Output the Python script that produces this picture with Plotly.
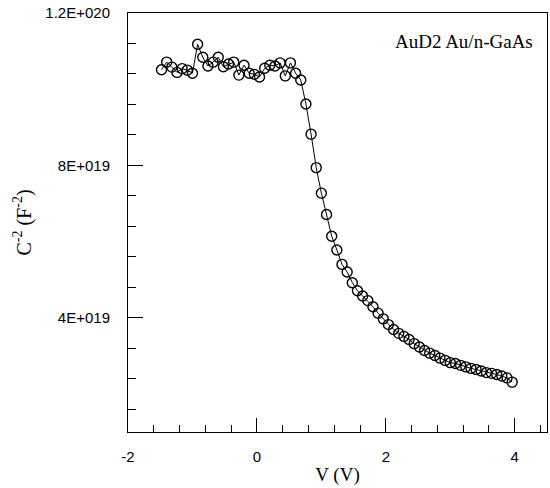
import plotly.graph_objects as go

# Bias voltage (V)
voltage = [-1.48, -1.40, -1.32, -1.24, -1.16, -1.08, -1.00, -0.92, -0.84, -0.76,
           -0.68, -0.60, -0.52, -0.44, -0.36, -0.28, -0.20, -0.12, -0.04, 0.04,
           0.12, 0.20, 0.28, 0.36, 0.44, 0.52, 0.60, 0.68,
           0.76, 0.84, 0.92, 1.00, 1.08, 1.16, 1.24, 1.32, 1.40, 1.48, 1.56, 1.64,
           1.72, 1.80, 1.88, 1.96, 2.04, 2.12, 2.20, 2.28, 2.36, 2.44, 2.52, 2.60,
           2.68, 2.76, 2.84, 2.92, 3.00, 3.08, 3.16, 3.24, 3.32, 3.40, 3.48, 3.56,
           3.64, 3.72, 3.80, 3.88, 3.96]

# C^-2 (F^-2)
inv_c2 = [10.51e19, 10.71e19, 10.58e19, 10.44e19, 10.54e19, 10.50e19, 10.42e19, 11.18e19,
          10.84e19, 10.61e19, 10.71e19, 10.84e19, 10.59e19, 10.66e19, 10.71e19, 10.37e19,
          10.63e19, 10.42e19, 10.39e19, 10.32e19, 10.55e19, 10.63e19, 10.61e19, 10.69e19,
          10.35e19, 10.69e19, 10.42e19, 10.24e19,
          9.61e19, 8.82e19, 7.94e19, 7.27e19, 6.71e19, 6.14e19, 5.78e19, 5.40e19,
          5.20e19, 4.92e19, 4.71e19, 4.57e19,
          4.45e19, 4.29e19, 4.12e19, 3.97e19, 3.82e19, 3.69e19, 3.59e19, 3.51e19,
          3.43e19, 3.32e19, 3.23e19, 3.14e19, 3.07e19, 3.01e19, 2.94e19, 2.88e19,
          2.82e19, 2.80e19, 2.75e19, 2.71e19, 2.67e19, 2.64e19, 2.60e19, 2.56e19,
          2.54e19, 2.51e19, 2.47e19, 2.42e19, 2.31e19]

x_tickvals = [-2, 0, 2, 4]
x_ticktext = ["-2", "0", "2", "4"]
y_tickvals = [4e19, 8e19, 1.2e20]
y_ticktext = ["4E+019", "8E+019", "1.2E+020"]

sans = "Liberation Sans, Arial, sans-serif"
serif = "Liberation Serif, Times New Roman, serif"

fig = go.Figure()
fig.add_trace(go.Scatter(
    x=voltage, y=inv_c2, mode="lines+markers",
    line=dict(color="black", width=1),
    marker=dict(symbol="circle-open", size=10, color="black", line=dict(width=1.4)),
    showlegend=False,
))

fig.update_layout(
    width=550, height=488,
    margin=dict(l=128, r=3, t=13, b=56, autoexpand=False),
    paper_bgcolor="white", plot_bgcolor="white",
    showlegend=False,
    annotations=[dict(
        text="AuD2 Au/n-GaAs", x=0.972, y=0.932, xref="paper", yref="paper",
        xanchor="right", yanchor="middle", showarrow=False,
        font=dict(family=serif, size=19, color="black"),
    )],
)

fig.update_xaxes(
    range=[-2, 4.5], showgrid=False, zeroline=False, automargin=False,
    showline=True, linecolor="black", linewidth=1, mirror=True,
    tickmode="array", tickvals=x_tickvals, ticktext=x_ticktext,
    ticks="inside", ticklen=14, tickwidth=1, tickcolor="black",
    minor=dict(ticks="inside", dtick=0.4, tick0=0, ticklen=7, tickwidth=1, tickcolor="black"),
    tickfont=dict(family=sans, size=15, color="black"),
    ticklabelstandoff=11, ticklabeloverflow="allow",
    title=dict(text="V (V)", font=dict(family=serif, size=19, color="black"), standoff=3),
)

fig.update_yaxes(
    range=[1e19, 1.2e20], showgrid=False, zeroline=False, automargin=False,
    showline=True, linecolor="black", linewidth=1, mirror=True,
    tickmode="array", tickvals=y_tickvals, ticktext=y_ticktext,
    ticks="inside", ticklen=15, tickwidth=1, tickcolor="black",
    minor=dict(ticks="inside", dtick=8e18, tick0=0, ticklen=8, tickwidth=1, tickcolor="black"),
    tickfont=dict(family=sans, size=15, color="black"),
    ticklabelstandoff=14, ticklabeloverflow="allow",
    title=dict(text="C<sup>-2</sup> (F<sup>-2</sup>)", font=dict(family=serif, size=20, color="black"), standoff=8),
)

# remove the browser's default 8px body margin so the 550x488 figure fills the window
fig.write_html(
    "out.html",
    config={"displayModeBar": False},
    post_script="document.body.style.margin='0';document.body.style.overflow='hidden';",
)
